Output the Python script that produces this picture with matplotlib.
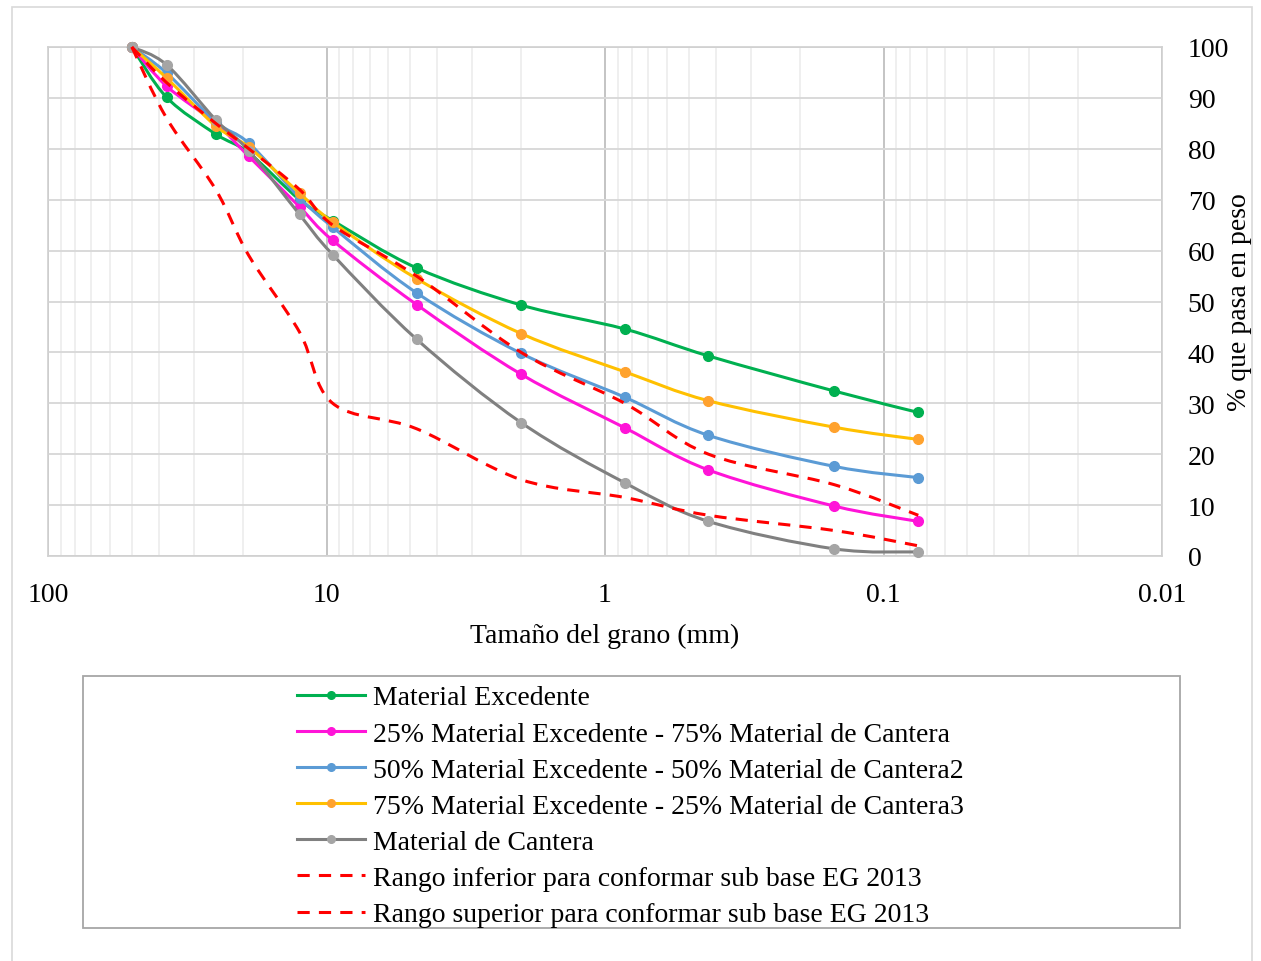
import numpy as np
import matplotlib
matplotlib.use("Agg")
import matplotlib.pyplot as plt
from matplotlib.path import Path
from matplotlib.patches import PathPatch, Rectangle
from matplotlib.lines import Line2D
from matplotlib.ticker import FixedLocator, NullFormatter

plt.rcParams["font.family"] = ["Liberation Serif", "DejaVu Serif"]

# Abertura de tamices (mm) y % que pasa
sizes = [50, 37.5, 25, 19, 12.5, 9.5, 4.75, 2, 0.85, 0.425, 0.15, 0.075]
excedente = [100, 90.1, 82.9, 79.2, 70.0, 65.9, 56.6, 49.3, 44.6, 39.3, 32.4, 28.2]
mezcla_25 = [100, 92.3, 85.0, 78.5, 68.6, 62.0, 49.4, 35.7, 25.2, 16.9, 9.8, 6.8]
mezcla_50 = [100, 94.9, 85.3, 81.1, 70.4, 64.6, 51.7, 39.8, 31.2, 23.7, 17.6, 15.4]
mezcla_75 = [100, 93.9, 84.5, 80.3, 71.3, 65.6, 54.5, 43.7, 36.2, 30.5, 25.3, 22.9]
cantera = [100, 96.5, 85.7, 79.6, 67.1, 59.2, 42.6, 26.2, 14.4, 6.8, 1.4, 0.8]
rango_inf = [100, 86, 72, 59, 44, 30, 25, 15, 11.5, 8, 5, 2]
rango_sup = [100, 93, 85, 80, 72, 65, 55, 40, 30, 20, 14, 8]

labels = [
    "Material Excedente",
    "25% Material Excedente - 75% Material de Cantera",
    "50% Material Excedente - 50% Material de Cantera2",
    "75% Material Excedente - 25% Material de Cantera3",
    "Material de Cantera",
    "Rango inferior para conformar sub base EG 2013",
    "Rango superior para conformar sub base EG 2013",
]

FS = 20


def smooth_path(x, y):
    # Excel-style smoothed line: Catmull-Rom bezier in (log x, y) space
    u = np.log10(np.asarray(x, dtype=float))
    v = np.asarray(y, dtype=float)
    pts = np.column_stack([u, v])
    n = len(pts)
    verts = [pts[0]]
    codes = [Path.MOVETO]
    for i in range(n - 1):
        p0 = pts[i - 1] if i > 0 else pts[i]
        p1 = pts[i]
        p2 = pts[i + 1]
        p3 = pts[i + 2] if i + 2 < n else pts[i + 1]
        c1 = p1 + (p2 - p0) / 6.0
        c2 = p2 - (p3 - p1) / 6.0
        verts += [c1, c2, p2]
        codes += [Path.CURVE4] * 3
    verts = np.array(verts)
    verts[:, 0] = 10 ** verts[:, 0]
    return Path(verts, codes)


fig = plt.figure(figsize=(12.61, 9.62), dpi=100)
ax = fig.add_axes([48 / 1261, 1 - 557 / 962, 1114 / 1261, 509 / 962])

ax.set_xscale("log")
ax.set_xlim(100, 0.01)
ax.set_ylim(0, 100)

# grid
ax.xaxis.set_major_locator(FixedLocator([100, 10, 1, 0.1, 0.01]))
minor = [m * 10.0 ** e for e in range(-2, 2) for m in range(2, 10)]
ax.xaxis.set_minor_locator(FixedLocator(minor))
ax.xaxis.set_minor_formatter(NullFormatter())
ax.set_xticklabels(["100", "10", "1", "0.1", "0.01"])
ax.set_yticks(range(0, 101, 10))
ax.grid(True, which="minor", axis="x", color="#ececec", lw=1.2)
ax.grid(True, which="major", axis="x", color="#c4c4c4", lw=1.4)
ax.grid(True, which="major", axis="y", color="#d9d9d9", lw=1.4)
ax.set_axisbelow(True)
for s in ax.spines.values():
    s.set_color("#d0d0d0")
    s.set_linewidth(1.2)

ax.yaxis.tick_right()
ax.tick_params(axis="both", which="both", length=0, labelsize=FS)
ax.tick_params(axis="x", pad=19)
ax.tick_params(axis="y", pad=18.5)
for t in ax.get_yticklabels():
    t.set_horizontalalignment("left")

ax.set_xlabel("Tamaño del grano (mm)", fontsize=FS, labelpad=11)
ax.set_ylabel("% que pasa en peso", fontsize=FS)
ax.yaxis.set_label_position("right")
ax.yaxis.set_label_coords(1.0585, 0.5)

series = [
    (excedente, "#00B050", "#00B050"),
    (mezcla_25, "#FF14D8", "#FF14D8"),
    (mezcla_50, "#5B9BD5", "#5B9BD5"),
    (mezcla_75, "#FFC000", "#FFA22E"),
    (cantera, "#808080", "#A5A5A5"),
]
handles = []
for k, (vals, lc, mc) in enumerate(series):
    ax.add_patch(PathPatch(smooth_path(sizes, vals), fill=False, edgecolor=lc, lw=2.2,
                           capstyle="round", joinstyle="round", zorder=3 + k, clip_on=False))
    ax.plot(sizes, vals, "o", color=mc, ms=7, zorder=3.5 + k, clip_on=False)
    handles.append(Line2D([], [], color=lc, lw=2.2, marker="o", ms=5.5,
                          markerfacecolor=mc, markeredgecolor=mc))

for vals in (rango_inf, rango_sup):
    ax.add_patch(PathPatch(smooth_path(sizes, vals), fill=False, edgecolor="#FF0000", lw=2.2,
                           linestyle=(0, (4, 3)), capstyle="butt", zorder=10, clip_on=False))
    handles.append(Line2D([], [], color="#FF0000", lw=2.2, linestyle=(0, (4, 3))))

# legend frame
fig.patches.append(Rectangle((83 / 1261, 1 - 929 / 962), 1097 / 1261, 252 / 962,
                             transform=fig.transFigure, fill=False,
                             edgecolor="#a6a6a6", lw=1.3))
fig.legend(handles, labels, loc="upper left", bbox_to_anchor=(297 / 1261, 1 - 686 / 962),
           frameon=False, fontsize=FS, handlelength=2.45, handletextpad=0.29,
           labelspacing=0.385, borderpad=0, borderaxespad=0)

# outer border
fig.patches.append(Rectangle((12 / 1261, -0.01), 1240 / 1261, 1 - 8 / 962 + 0.01,
                             transform=fig.transFigure, fill=False,
                             edgecolor="#d9d9d9", lw=1.2))

fig.savefig("out.png", dpi=100)
